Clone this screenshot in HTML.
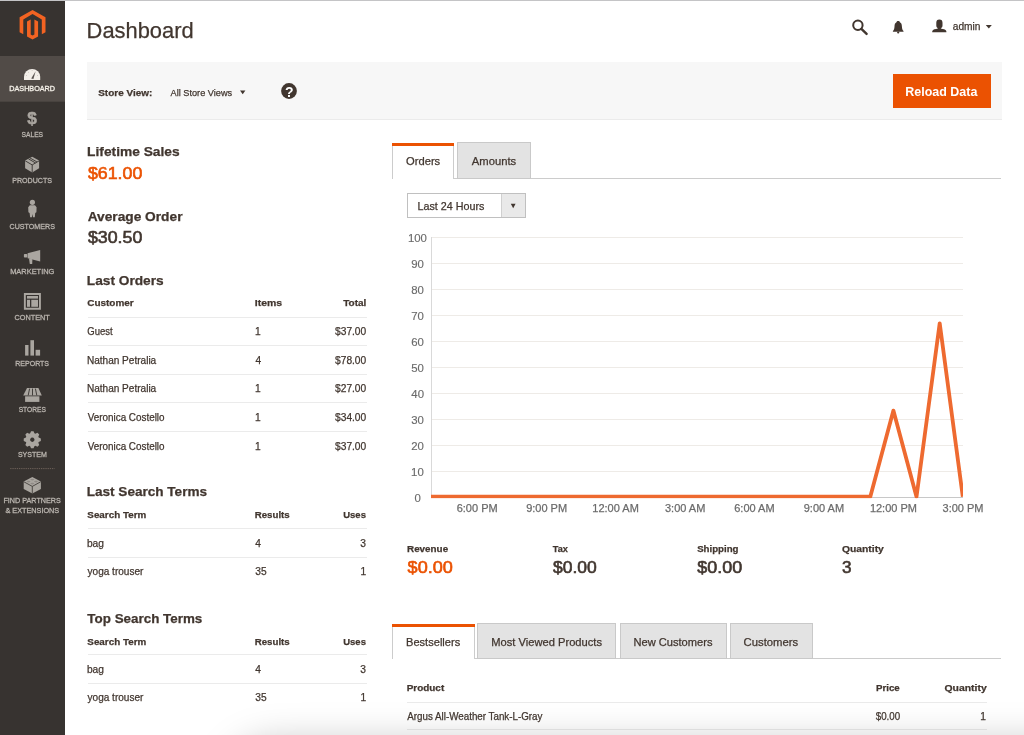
<!DOCTYPE html>
<html><head><meta charset="utf-8"><title>Dashboard</title>
<style>
html,body{margin:0;padding:0;width:1024px;height:735px;overflow:hidden;background:#fff}
svg{position:absolute;left:0;top:0;display:block;will-change:transform}
text{font-family:"Liberation Sans",sans-serif;fill:#41362f}
#txt text{stroke:#41362f}
</style></head><body>
<svg width="1024" height="735" viewBox="0 0 1024 735">
<!-- sidebar -->
<rect x="0" y="0" width="65" height="735" fill="#373330"/>
<rect x="0" y="56" width="65" height="45.7" fill="#514b47"/>
<rect x="0" y="0" width="1024" height="1" fill="#c4c4c6"/>
<!-- logo -->
<g transform="translate(19.6,9.9) scale(0.594)" fill="#f26322">
<polygon points="43.6,12.5 43.6,37.5 37.4,41.1 37.4,16.1 21.8,7.1 6.2,16.1 6.2,41.1 0,37.5 0,12.5 21.8,0"/>
<polygon points="24.9,41.5 21.8,43.3 18.7,41.5 18.7,16.1 12.5,19.6 12.5,44.6 21.8,50 31.1,44.6 31.1,19.6 24.9,16.1"/>
</g>
<!-- store bar -->
<rect x="87" y="62" width="915" height="57" fill="#f7f7f7"/>
<rect x="87" y="119" width="915" height="1" fill="#ebebeb"/>
<rect x="893" y="74" width="98" height="34" fill="#eb5202"/>
<circle cx="289" cy="91" r="7.9" fill="#41362f"/>
<text x="289.2" y="96.6" font-size="14" font-weight="700" text-anchor="middle" style="fill:#fff">?</text>
<!-- chart tabs -->
<g shape-rendering="crispEdges">
<rect x="392" y="177.5" width="609" height="1" fill="#cccccc"/>
<rect x="392" y="143" width="1" height="35" fill="#cccccc"/>
<rect x="453" y="143" width="1" height="35" fill="#cccccc"/>
<rect x="393" y="178" width="60" height="1" fill="#ffffff"/>
<rect x="392" y="142.5" width="62" height="3" fill="#eb5202"/>
<rect x="457" y="142" width="73.5" height="36" fill="#e3e3e3" stroke="#c9c9c9" stroke-width="1"/>
<!-- select -->
<rect x="407.5" y="193.5" width="118" height="24" fill="#fff" stroke="#c0c0c0" stroke-width="1"/>
<rect x="500.5" y="194" width="24.5" height="23" fill="#e9e9e9"/>
<rect x="500.5" y="194" width="1" height="23" fill="#d0d0d0"/>
</g>
<polygon points="510.8,203.8 515.6,203.8 513.2,208.2" fill="#41362f"/>
<clipPath id="chartclip"><rect x="431" y="200" width="532" height="298.2"/></clipPath>
<!-- chart grid -->
<g shape-rendering="crispEdges">
<rect x="431" y="236.6" width="532" height="1" fill="#eeebe7"/>
<rect x="431" y="262.6" width="532" height="1" fill="#eeebe7"/>
<rect x="431" y="288.7" width="532" height="1" fill="#eeebe7"/>
<rect x="431" y="314.7" width="532" height="1" fill="#eeebe7"/>
<rect x="431" y="340.8" width="532" height="1" fill="#eeebe7"/>
<rect x="431" y="366.8" width="532" height="1" fill="#eeebe7"/>
<rect x="431" y="392.8" width="532" height="1" fill="#eeebe7"/>
<rect x="431" y="418.9" width="532" height="1" fill="#eeebe7"/>
<rect x="431" y="444.9" width="532" height="1" fill="#eeebe7"/>
<rect x="431" y="471.0" width="532" height="1" fill="#eeebe7"/>
<rect x="430.5" y="237" width="1" height="261" fill="#d9d9d9"/>
<rect x="431" y="497" width="532" height="1" fill="#c8c8c8"/>
</g>
<polyline points="430.8,496.7 453.9,496.7 477.1,496.7 500.2,496.7 523.3,496.7 546.5,496.7 569.6,496.7 592.7,496.7 615.8,496.7 639.0,496.7 662.1,496.7 685.2,496.7 708.4,496.7 731.5,496.7 754.6,496.7 777.8,496.7 800.9,496.7 824.0,496.7 847.1,496.7 870.3,496.7 893.4,410.6 916.5,496.7 939.7,323.3 962.8,496.7" fill="none" stroke="#ee6a30" stroke-width="3.8" stroke-linejoin="round" clip-path="url(#chartclip)"/>
<!-- bottom tabs -->
<g shape-rendering="crispEdges">
<rect x="392" y="658" width="609" height="1" fill="#cccccc"/>
<rect x="392" y="624" width="1" height="35" fill="#cccccc"/>
<rect x="474" y="624" width="1" height="35" fill="#cccccc"/>
<rect x="393" y="658" width="81" height="1" fill="#ffffff"/>
<rect x="392" y="623.5" width="83" height="3" fill="#eb5202"/>
<rect x="477.5" y="623.5" width="138" height="35" fill="#e3e3e3" stroke="#c9c9c9"/>
<rect x="620" y="623.5" width="106.5" height="35" fill="#e3e3e3" stroke="#c9c9c9"/>
<rect x="730" y="623.5" width="82" height="35" fill="#e3e3e3" stroke="#c9c9c9"/>
<!-- tables -->
<rect x="87.5" y="316.7" width="279.0" height="1" fill="#ebebeb"/>
<rect x="87.5" y="345.2" width="279.0" height="1" fill="#ebebeb"/>
<rect x="87.5" y="373.8" width="279.0" height="1" fill="#ebebeb"/>
<rect x="87.5" y="402.4" width="279.0" height="1" fill="#ebebeb"/>
<rect x="87.5" y="431.3" width="279.0" height="1" fill="#ebebeb"/>
<rect x="87.5" y="528.0" width="279.0" height="1" fill="#ebebeb"/>
<rect x="87.5" y="557.1" width="279.0" height="1" fill="#ebebeb"/>
<rect x="87.5" y="654.2" width="279.0" height="1" fill="#ebebeb"/>
<rect x="87.5" y="683.3" width="279.0" height="1" fill="#ebebeb"/>
<rect x="407.0" y="701.9" width="580.0" height="1" fill="#ebebeb"/>
<rect x="407.0" y="729.2" width="580.0" height="1" fill="#ebebeb"/>
</g>

<g id="txt">
<text x="86.57" y="38" font-size="21.4" stroke-width="0.25" textLength="107.13" lengthAdjust="spacingAndGlyphs">Dashboard</text>
<text x="952.72" y="30.3" font-size="10.3" stroke-width="0.25" textLength="27.73" lengthAdjust="spacingAndGlyphs">admin</text>
<text x="98.23" y="95.7" font-size="9.8" font-weight="700" stroke-width="0.25" textLength="54.08" lengthAdjust="spacingAndGlyphs">Store View:</text>
<text x="170.62" y="95.8" font-size="9.8" stroke-width="0.25" textLength="61.53" lengthAdjust="spacingAndGlyphs">All Store Views</text>
<text x="905.26" y="95.8" font-size="12.4" font-weight="700" style="fill:#ffffff;stroke:#ffffff" stroke-width="0.01" textLength="72.07" lengthAdjust="spacingAndGlyphs">Reload Data</text>
<text x="87.1" y="155.9" font-size="12.2" font-weight="700" stroke-width="0.25" textLength="92.57" lengthAdjust="spacingAndGlyphs">Lifetime Sales</text>
<text x="87.92" y="178.8" font-size="16.8" style="fill:#eb5202;stroke:#eb5202" stroke-width="0.6" textLength="54.42" lengthAdjust="spacingAndGlyphs">$61.00</text>
<text x="87.65" y="220.7" font-size="12.2" font-weight="700" stroke-width="0.25" textLength="94.85" lengthAdjust="spacingAndGlyphs">Average Order</text>
<text x="87.92" y="243" font-size="16.8" stroke-width="0.6" textLength="54.42" lengthAdjust="spacingAndGlyphs">$30.50</text>
<text x="86.8" y="284.7" font-size="13.2" font-weight="700" stroke-width="0.25" textLength="76.87" lengthAdjust="spacingAndGlyphs">Last Orders</text>
<text x="87.23" y="306" font-size="9.8" font-weight="700" stroke-width="0.25" textLength="46.54" lengthAdjust="spacingAndGlyphs">Customer</text>
<text x="254.8" y="306" font-size="9.8" font-weight="700" stroke-width="0.25" textLength="27.36" lengthAdjust="spacingAndGlyphs">Items</text>
<text x="343.23" y="306" font-size="9.8" font-weight="700" stroke-width="0.25" textLength="23.13" lengthAdjust="spacingAndGlyphs">Total</text>
<text x="87.25" y="335.1" font-size="10.2" stroke-width="0.25" textLength="25.41" lengthAdjust="spacingAndGlyphs">Guest</text>
<text x="254.91" y="335.1" font-size="10.2" stroke-width="0.25">1</text>
<text x="335.05" y="335.1" font-size="10.2" stroke-width="0.25">$37.00</text>
<text x="86.92" y="363.7" font-size="10.2" stroke-width="0.25" textLength="69.32" lengthAdjust="spacingAndGlyphs">Nathan Petralia</text>
<text x="255.42" y="363.7" font-size="10.2" stroke-width="0.25">4</text>
<text x="335.05" y="363.7" font-size="10.2" stroke-width="0.25">$78.00</text>
<text x="86.92" y="392.3" font-size="10.2" stroke-width="0.25" textLength="69.32" lengthAdjust="spacingAndGlyphs">Nathan Petralia</text>
<text x="254.91" y="392.3" font-size="10.2" stroke-width="0.25">1</text>
<text x="335.05" y="392.3" font-size="10.2" stroke-width="0.25">$27.00</text>
<text x="87.72" y="420.9" font-size="10.2" stroke-width="0.25" textLength="76.81" lengthAdjust="spacingAndGlyphs">Veronica Costello</text>
<text x="254.91" y="420.9" font-size="10.2" stroke-width="0.25">1</text>
<text x="335.05" y="420.9" font-size="10.2" stroke-width="0.25">$34.00</text>
<text x="87.72" y="449.5" font-size="10.2" stroke-width="0.25" textLength="76.81" lengthAdjust="spacingAndGlyphs">Veronica Costello</text>
<text x="254.91" y="449.5" font-size="10.2" stroke-width="0.25">1</text>
<text x="335.05" y="449.5" font-size="10.2" stroke-width="0.25">$37.00</text>
<text x="86.71" y="496.3" font-size="13.2" font-weight="700" stroke-width="0.25" textLength="120.35" lengthAdjust="spacingAndGlyphs">Last Search Terms</text>
<text x="87.33" y="518.3" font-size="9.8" font-weight="700" stroke-width="0.25" textLength="58.93" lengthAdjust="spacingAndGlyphs">Search Term</text>
<text x="254.74" y="518.3" font-size="9.8" font-weight="700" stroke-width="0.25" textLength="34.98" lengthAdjust="spacingAndGlyphs">Results</text>
<text x="343.26" y="518.3" font-size="9.8" font-weight="700" stroke-width="0.25" textLength="22.66" lengthAdjust="spacingAndGlyphs">Uses</text>
<text x="86.91" y="547.1" font-size="10.2" stroke-width="0.25">bag</text>
<text x="255.32" y="547.1" font-size="10.2" stroke-width="0.25">4</text>
<text x="360.37" y="547.1" font-size="10.2" stroke-width="0.25">3</text>
<text x="87.53" y="575.2" font-size="10.2" stroke-width="0.25" textLength="55.88" lengthAdjust="spacingAndGlyphs">yoga trouser</text>
<text x="255.22" y="575.2" font-size="10.2" stroke-width="0.25">35</text>
<text x="360.47" y="575.2" font-size="10.2" stroke-width="0.25">1</text>
<text x="87.39" y="622.5" font-size="13.2" font-weight="700" stroke-width="0.25" textLength="114.87" lengthAdjust="spacingAndGlyphs">Top Search Terms</text>
<text x="87.33" y="644.5" font-size="9.8" font-weight="700" stroke-width="0.25" textLength="58.93" lengthAdjust="spacingAndGlyphs">Search Term</text>
<text x="254.74" y="644.5" font-size="9.8" font-weight="700" stroke-width="0.25" textLength="34.98" lengthAdjust="spacingAndGlyphs">Results</text>
<text x="343.26" y="644.5" font-size="9.8" font-weight="700" stroke-width="0.25" textLength="22.66" lengthAdjust="spacingAndGlyphs">Uses</text>
<text x="86.91" y="673.3" font-size="10.2" stroke-width="0.25">bag</text>
<text x="255.32" y="673.3" font-size="10.2" stroke-width="0.25">4</text>
<text x="360.37" y="673.3" font-size="10.2" stroke-width="0.25">3</text>
<text x="87.53" y="701.4" font-size="10.2" stroke-width="0.25" textLength="55.88" lengthAdjust="spacingAndGlyphs">yoga trouser</text>
<text x="255.22" y="701.4" font-size="10.2" stroke-width="0.25">35</text>
<text x="360.47" y="701.4" font-size="10.2" stroke-width="0.25">1</text>
<text x="406.08" y="164.7" font-size="10.9" stroke-width="0.25" textLength="34.13" lengthAdjust="spacingAndGlyphs">Orders</text>
<text x="471.82" y="164.7" font-size="10.9" stroke-width="0.25" textLength="44.39" lengthAdjust="spacingAndGlyphs">Amounts</text>
<text x="417.57" y="209.7" font-size="10.4" stroke-width="0.25" textLength="66.83" lengthAdjust="spacingAndGlyphs">Last 24 Hours</text>
<text x="407.9" y="242.05" font-size="11.4" style="fill:#6b6b6b;stroke:#6b6b6b" stroke-width="0.15">100</text>
<text x="411.24" y="268.09" font-size="11.4" style="fill:#6b6b6b;stroke:#6b6b6b" stroke-width="0.15">90</text>
<text x="411.24" y="294.13" font-size="11.4" style="fill:#6b6b6b;stroke:#6b6b6b" stroke-width="0.15">80</text>
<text x="411.18" y="320.17" font-size="11.4" style="fill:#6b6b6b;stroke:#6b6b6b" stroke-width="0.15">70</text>
<text x="411.18" y="346.21" font-size="11.4" style="fill:#6b6b6b;stroke:#6b6b6b" stroke-width="0.15">60</text>
<text x="411.24" y="372.25" font-size="11.4" style="fill:#6b6b6b;stroke:#6b6b6b" stroke-width="0.15">50</text>
<text x="411.35" y="398.29" font-size="11.4" style="fill:#6b6b6b;stroke:#6b6b6b" stroke-width="0.15">40</text>
<text x="411.29" y="424.33" font-size="11.4" style="fill:#6b6b6b;stroke:#6b6b6b" stroke-width="0.15">30</text>
<text x="411.18" y="450.37" font-size="11.4" style="fill:#6b6b6b;stroke:#6b6b6b" stroke-width="0.15">20</text>
<text x="411.07" y="476.41" font-size="11.4" style="fill:#6b6b6b;stroke:#6b6b6b" stroke-width="0.15">10</text>
<text x="414.47" y="502.45" font-size="11.4" style="fill:#6b6b6b;stroke:#6b6b6b" stroke-width="0.15">0</text>
<text x="456.7" y="511.8" font-size="11" style="fill:#6b6b6b;stroke:#6b6b6b" stroke-width="0.25">6:00 PM</text>
<text x="526.15" y="511.8" font-size="11" style="fill:#6b6b6b;stroke:#6b6b6b" stroke-width="0.25">9:00 PM</text>
<text x="592.32" y="511.8" font-size="11" style="fill:#6b6b6b;stroke:#6b6b6b" stroke-width="0.25">12:00 AM</text>
<text x="664.98" y="511.8" font-size="11" style="fill:#6b6b6b;stroke:#6b6b6b" stroke-width="0.25">3:00 AM</text>
<text x="734.26" y="511.8" font-size="11" style="fill:#6b6b6b;stroke:#6b6b6b" stroke-width="0.25">6:00 AM</text>
<text x="803.71" y="511.8" font-size="11" style="fill:#6b6b6b;stroke:#6b6b6b" stroke-width="0.25">9:00 AM</text>
<text x="869.88" y="511.8" font-size="11" style="fill:#6b6b6b;stroke:#6b6b6b" stroke-width="0.25">12:00 PM</text>
<text x="942.54" y="511.8" font-size="11" style="fill:#6b6b6b;stroke:#6b6b6b" stroke-width="0.25">3:00 PM</text>
<text x="407.03" y="551.9" font-size="9.8" font-weight="700" stroke-width="0.25" textLength="41.1" lengthAdjust="spacingAndGlyphs">Revenue</text>
<text x="407.62" y="572.6" font-size="16.8" style="fill:#eb5202;stroke:#eb5202" stroke-width="0.6" textLength="45.23" lengthAdjust="spacingAndGlyphs">$0.00</text>
<text x="552.83" y="551.9" font-size="9.8" font-weight="700" stroke-width="0.25" textLength="15.1" lengthAdjust="spacingAndGlyphs">Tax</text>
<text x="552.92" y="572.6" font-size="16.8" stroke-width="0.6" textLength="43.81" lengthAdjust="spacingAndGlyphs">$0.00</text>
<text x="697.13" y="551.9" font-size="9.8" font-weight="700" stroke-width="0.25" textLength="41.33" lengthAdjust="spacingAndGlyphs">Shipping</text>
<text x="697.32" y="572.6" font-size="16.8" stroke-width="0.6" textLength="44.93" lengthAdjust="spacingAndGlyphs">$0.00</text>
<text x="841.91" y="551.9" font-size="9.8" font-weight="700" stroke-width="0.25" textLength="41.92" lengthAdjust="spacingAndGlyphs">Quantity</text>
<text x="841.99" y="572.6" font-size="16.8" stroke-width="0.6" textLength="9.53" lengthAdjust="spacingAndGlyphs">3</text>
<text x="406.04" y="646" font-size="10.9" stroke-width="0.25" textLength="54.17" lengthAdjust="spacingAndGlyphs">Bestsellers</text>
<text x="491.23" y="646" font-size="10.9" stroke-width="0.25" textLength="110.78" lengthAdjust="spacingAndGlyphs">Most Viewed Products</text>
<text x="633.44" y="646" font-size="10.9" stroke-width="0.25" textLength="79.07" lengthAdjust="spacingAndGlyphs">New Customers</text>
<text x="743.56" y="646" font-size="10.9" stroke-width="0.25" textLength="54.65" lengthAdjust="spacingAndGlyphs">Customers</text>
<text x="406.73" y="691.2" font-size="9.8" font-weight="700" stroke-width="0.25" textLength="37.48" lengthAdjust="spacingAndGlyphs">Product</text>
<text x="875.94" y="691.2" font-size="9.8" font-weight="700" stroke-width="0.25" textLength="23.79" lengthAdjust="spacingAndGlyphs">Price</text>
<text x="944.51" y="691.2" font-size="9.8" font-weight="700" stroke-width="0.25" textLength="42.23" lengthAdjust="spacingAndGlyphs">Quantity</text>
<text x="407.32" y="720.2" font-size="10.2" stroke-width="0.25" textLength="135.15" lengthAdjust="spacingAndGlyphs">Argus All-Weather Tank-L-Gray</text>
<text x="875.73" y="720" font-size="10.2" stroke-width="0.25" textLength="24.4" lengthAdjust="spacingAndGlyphs">$0.00</text>
<text x="980.17" y="720" font-size="10.2" stroke-width="0.25">1</text>
<text x="9.27" y="90.7" font-size="7.9" style="fill:#f7f3eb;stroke:#f7f3eb" stroke-width="0.3" textLength="45.78" lengthAdjust="spacingAndGlyphs">DASHBOARD</text>
<text x="21.48" y="136.6" font-size="7.9" style="fill:#bab5af;stroke:#bab5af" stroke-width="0.3" textLength="21.62" lengthAdjust="spacingAndGlyphs">SALES</text>
<text x="12.18" y="182.7" font-size="7.9" style="fill:#bab5af;stroke:#bab5af" stroke-width="0.3" textLength="39.93" lengthAdjust="spacingAndGlyphs">PRODUCTS</text>
<text x="9.59" y="228.6" font-size="7.9" style="fill:#bab5af;stroke:#bab5af" stroke-width="0.3" textLength="45.32" lengthAdjust="spacingAndGlyphs">CUSTOMERS</text>
<text x="10.16" y="274.2" font-size="7.9" style="fill:#bab5af;stroke:#bab5af" stroke-width="0.3" textLength="44.2" lengthAdjust="spacingAndGlyphs">MARKETING</text>
<text x="14.59" y="319.5" font-size="7.9" style="fill:#bab5af;stroke:#bab5af" stroke-width="0.3" textLength="35.22" lengthAdjust="spacingAndGlyphs">CONTENT</text>
<text x="15.24" y="365.5" font-size="7.9" style="fill:#bab5af;stroke:#bab5af" stroke-width="0.3" textLength="33.82" lengthAdjust="spacingAndGlyphs">REPORTS</text>
<text x="18.63" y="411.6" font-size="7.9" style="fill:#bab5af;stroke:#bab5af" stroke-width="0.3" textLength="27.31" lengthAdjust="spacingAndGlyphs">STORES</text>
<text x="17.92" y="457.2" font-size="7.9" style="fill:#bab5af;stroke:#bab5af" stroke-width="0.3" textLength="29" lengthAdjust="spacingAndGlyphs">SYSTEM</text>
<text x="3.47" y="503.1" font-size="7.9" style="fill:#bab5af;stroke:#bab5af" stroke-width="0.3" textLength="57.34" lengthAdjust="spacingAndGlyphs">FIND PARTNERS</text>
<text x="5.48" y="512.9" font-size="7.9" style="fill:#bab5af;stroke:#bab5af" stroke-width="0.3" textLength="53.69" lengthAdjust="spacingAndGlyphs">&amp; EXTENSIONS</text>
</g>
<!-- sidebar icons -->
<g fill="#aaa6a0">
<!-- dashboard gauge -->
<path d="M24,80 L24,76.8 A8.1,7.9 0 0 1 40.2,76.8 L40.2,80 Z" style="fill:#f2eee8"/>
<path d="M31.2,78.6 L35.6,71.2 L33.4,79 Z" style="fill:#5a5450"/>
<g style="fill:#b0aaa4"><circle cx="26.6" cy="75.5" r="0.45"/><circle cx="28.5" cy="72.2" r="0.45"/><circle cx="32.1" cy="70.6" r="0.45"/><circle cx="37.6" cy="75.5" r="0.45"/></g>
<!-- dollar -->
<text x="32" y="124.3" font-size="17.2" font-weight="700" text-anchor="middle" style="fill:#aaa6a0;stroke:#aaa6a0;stroke-width:0.5">$</text>
<!-- products box -->
<polygon points="32.2,156.7 39.1,160.6 39.1,168.3 32.2,172.4 25.1,168.3 25.1,160.6"/>
<path d="M25.3,160.9 L32.2,164.9 L39,160.9 M32.2,164.9 L32.2,172.4 M28.4,158.8 L35.4,162.9 M29.9,157.9 L36.9,161.9" stroke="#373330" stroke-width="0.9" fill="none"/>
<!-- customers -->
<circle cx="32.4" cy="202.3" r="2.6"/>
<path d="M29.8,205.3 L35,205.3 L36.6,207.2 L36.4,212.2 L35.2,213 L34.8,217.2 L33,217.2 L32.5,214 L31.9,217.2 L30.1,217.2 L29.6,213 L28.4,212.2 L28.2,207.2 Z"/>
<!-- marketing megaphone -->
<rect x="23.9" y="254" width="3.4" height="3.6" rx="0.8"/>
<polygon points="27.6,253.3 40.2,250.1 40.2,261.6 27.6,258.2"/>
<polygon points="29,258.5 32.4,259.3 32.2,264 29.8,264"/>
<!-- content -->
<path d="M23.9,293 H40.9 V309.7 H23.9 Z M25.8,294.9 V307.8 H39 V294.9 Z" fill-rule="evenodd"/>
<rect x="27" y="296" width="11" height="2.6"/>
<rect x="27" y="299.8" width="3" height="7"/>
<rect x="31.3" y="299.8" width="6.7" height="7"/>
<!-- reports -->
<rect x="25.1" y="345" width="3.4" height="10.6"/>
<rect x="30.4" y="340.2" width="3.6" height="15.4"/>
<rect x="35.6" y="349.8" width="4.5" height="5.8"/>
<!-- stores -->
<polygon points="27,388 38.4,388 41.8,395.6 23.2,395.6"/>
<path d="M29.6,388.6 L28.2,395.4 M32.5,388.6 L32.5,395.4 M35.4,388.6 L36.8,395.4" stroke="#373330" stroke-width="0.9"/>
<rect x="25.1" y="396.3" width="14.3" height="5.6"/>
<!-- system gear -->
<path d="M30.17,433.35 L31.05,431.20 L33.55,431.20 L34.42,433.35 L35.32,433.72 L37.46,432.82 L39.23,434.59 L38.33,436.73 L38.70,437.62 L40.85,438.50 L40.85,441.00 L38.70,441.88 L38.33,442.77 L39.23,444.91 L37.46,446.68 L35.32,445.78 L34.42,446.15 L33.55,448.30 L31.05,448.30 L30.17,446.15 L29.28,445.78 L27.14,446.68 L25.37,444.91 L26.27,442.77 L25.90,441.88 L23.75,441.00 L23.75,438.50 L25.90,437.62 L26.27,436.73 L25.37,434.59 L27.14,432.82 L29.28,433.72 Z M32.30,437.55 a2.2,2.2 0 1 0 0.01,0 Z" fill-rule="evenodd"/>
<!-- separator -->
<line x1="10.2" y1="468.6" x2="54.7" y2="468.6" stroke="#6e625a" stroke-width="1" stroke-dasharray="1.3,0.9"/>
<!-- lego -->
<polygon points="32.3,477 40.9,481.6 40.9,489 32.3,493.6 23.7,489 23.7,481.6"/>
<path d="M23.9,481.8 L32.3,486.4 L40.7,481.8 M32.3,486.4 V493.4" stroke="#373330" stroke-width="0.8" fill="none"/>
<g style="fill:#8f8a85"><ellipse cx="32.3" cy="479.6" rx="1.9" ry="0.8"/><ellipse cx="28.6" cy="481.6" rx="1.9" ry="0.8"/><ellipse cx="36" cy="481.6" rx="1.9" ry="0.8"/><ellipse cx="32.3" cy="483.6" rx="1.9" ry="0.8"/></g>
</g>
<!-- header icons -->
<g>
<circle cx="857.9" cy="25.3" r="4.7" fill="none" stroke="#41362f" stroke-width="2"/>
<line x1="861.4" y1="28.9" x2="866.6" y2="33.9" stroke="#41362f" stroke-width="2.4" stroke-linecap="round"/>
<path d="M898.2,20.9 C896.9,20.9 896.6,21.5 896.5,22.2 C895,22.8 894.6,24.4 894.5,26.6 C894.4,29 893.9,30.2 892.9,31.1 L892.9,31.7 L903.5,31.7 L903.5,31.1 C902.5,30.2 902,29 901.9,26.6 C901.8,24.4 901.4,22.8 899.9,22.2 C899.8,21.5 899.5,20.9 898.2,20.9 Z" fill="#41362f"/>
<circle cx="898.2" cy="32.5" r="1.1" fill="#41362f"/>
<path d="M939.4,19.4 C937.2,19.4 936.3,20.6 936.3,22.8 L936.3,25.4 C936.3,26.9 937,27.6 937.8,28 L937.8,28.6 C935.6,29.1 932.8,29.6 932.3,31 L932.2,32.2 H946.4 L946.3,31 C945.8,29.6 943,29.1 940.9,28.6 L940.9,28 C941.8,27.6 942.5,26.9 942.5,25.4 L942.5,22.8 C942.5,20.6 941.6,19.4 939.4,19.4 Z" fill="#41362f"/>
<polygon points="985.8,25 991.8,25 988.8,28.5" fill="#41362f"/>
<polygon points="240,90.6 245.4,90.6 242.7,94.3" fill="#41362f"/>
</g>
<defs><filter id="blur1" x="-50%" y="-50%" width="200%" height="200%"><feGaussianBlur stdDeviation="18"/></filter></defs>
<rect x="225" y="741" width="1000" height="200" rx="50" fill="#000" fill-opacity="0.22" filter="url(#blur1)"/>

</svg>
</body></html>
